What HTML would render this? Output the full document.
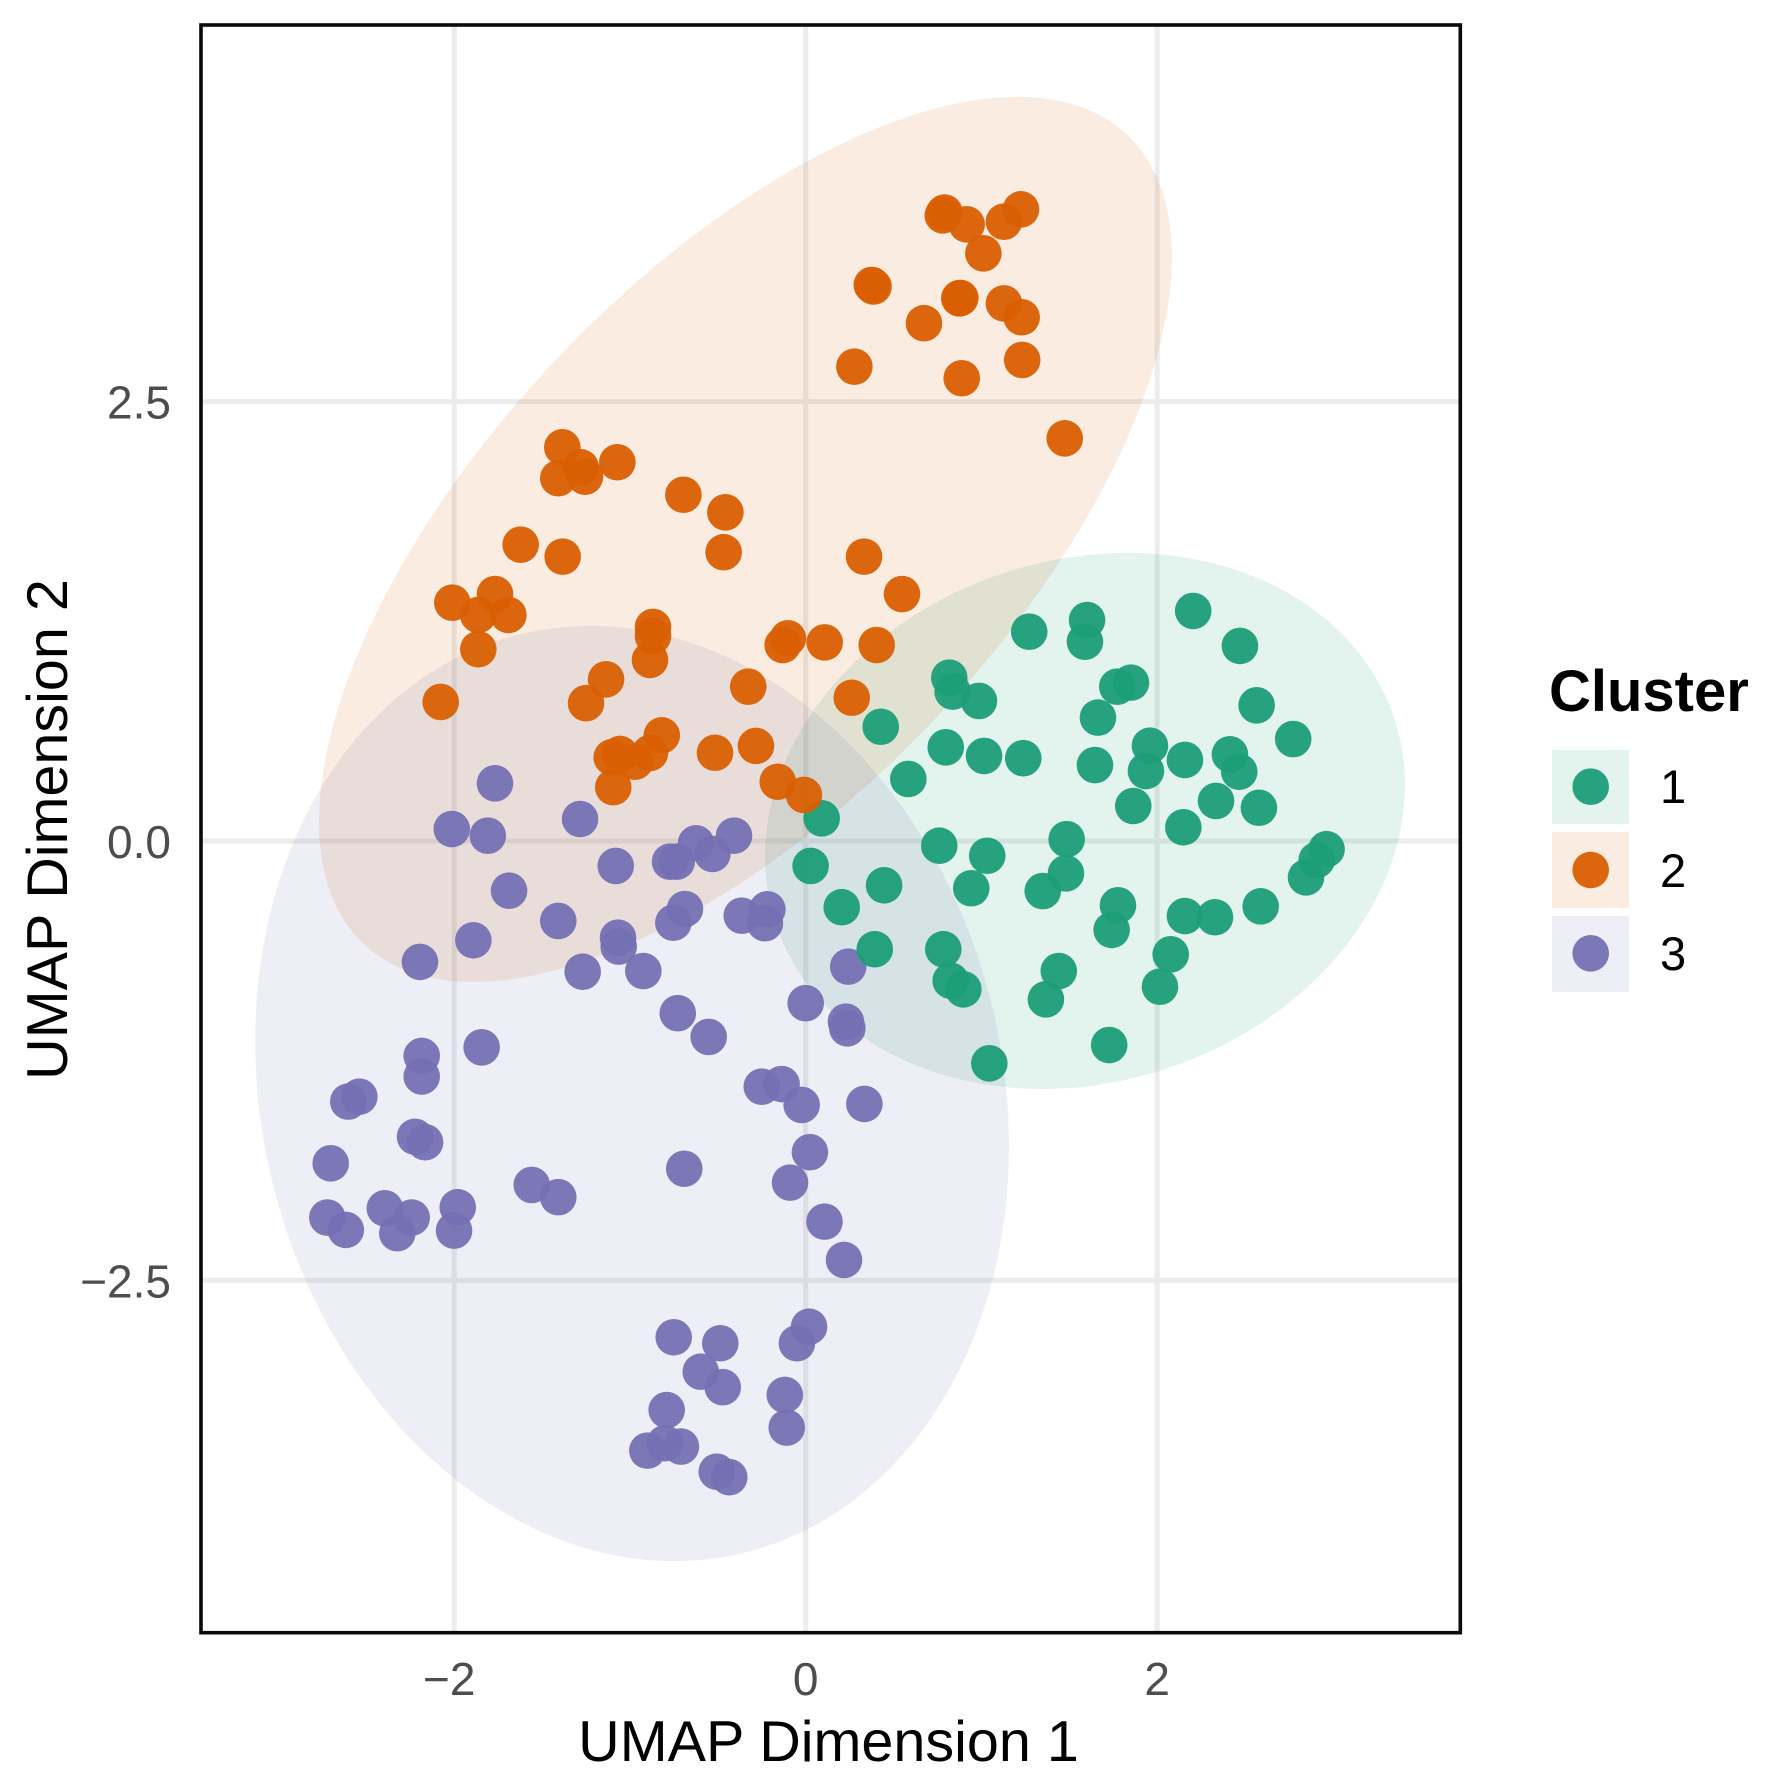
<!DOCTYPE html>
<html lang="en">
<head>
<meta charset="utf-8">
<title>UMAP clusters</title>
<style>
html,body{margin:0;padding:0;background:#fff;}
svg{display:block;font-family:"Liberation Sans",Arial,sans-serif;}
</style>
</head>
<body>
<svg id="chart" width="1767" height="1790" viewBox="0 0 1767 1790" xmlns="http://www.w3.org/2000/svg">
  <rect x="0" y="0" width="1767" height="1790" fill="#ffffff"/>
  <g id="grid"></g>
  <g id="ellipses"></g>
  <g id="points"></g>
  <rect id="frame" fill="none" stroke="#0a0a0a" stroke-width="3.6"/>
  <g id="ticks"></g>
  <text x="828.5" y="1761" font-size="57.5" text-anchor="middle" fill="#000">UMAP Dimension 1</text>
  <text transform="translate(67,829.5) rotate(-90)" font-size="57.5" text-anchor="middle" fill="#000">UMAP Dimension 2</text>
  <g>
    <text x="1549" y="711" font-size="58" font-weight="bold" fill="#000">Cluster</text>
    <g>
      <rect x="1552" y="750" width="77" height="74" fill="#1B9E77" fill-opacity="0.12"/>
      <circle cx="1590.7" cy="786.7" r="18.3" fill="#1B9E77" fill-opacity="0.95"/>
      <text x="1660" y="803" font-size="47" fill="#000">1</text>
    </g>
    <g>
      <rect x="1552" y="832" width="77" height="76" fill="#D95F02" fill-opacity="0.12"/>
      <circle cx="1590.7" cy="870" r="18.3" fill="#D95F02" fill-opacity="0.95"/>
      <text x="1660" y="887" font-size="47" fill="#000">2</text>
    </g>
    <g>
      <rect x="1552" y="916" width="77" height="76" fill="#7570B3" fill-opacity="0.12"/>
      <circle cx="1590.7" cy="953.3" r="18.3" fill="#7570B3" fill-opacity="0.95"/>
      <text x="1660" y="970" font-size="47" fill="#000">3</text>
    </g>
  </g>
</svg>
<script>
const xTicks = [-2, 0, 2];
const xTickLabels = ["\u22122", "0", "2"];
const yTicks = [-2.5, 0, 2.5];
const yTickLabels = ["\u22122.5", "0.0", "2.5"];
const xDomain = [-3.441, 3.725];
const yDomain = [-4.505, 4.643];

const cluster1X = [1.272,1.601,1.589,2.205,2.471,.817,.836,.986,1.773,1.851,1.663,2.566,2.774,.427,.797,1.015,1.238,.584,1.646,1.959,1.936,2.158,2.414,2.467,2.335,2.579,1.864,2.149,1.485,.760,1.033,1.481,1.349,.942,.446,.205,.091,.028,1.777,1.741,2.158,2.329,2.589,2.964,2.908,2.847,2.077,2.016,1.440,1.367,.393,.783,.825,.897,1.727,1.045];
const cluster1Y = [1.191,1.257,1.134,1.309,1.110,.929,.850,.797,.878,.901,.702,.772,.580,.650,.533,.484,.471,.353,.432,.542,.398,.461,.493,.394,.228,.189,.199,.078,.010,-.027,-.084,-.184,-.285,-.269,-.252,-.377,.129,-.142,-.366,-.506,-.427,-.434,-.372,-.047,-.108,-.207,-.645,-.829,-.740,-.901,-.616,-.616,-.795,-.844,-1.161,-1.265];

const cluster2X = [.780,.790,.916,1.128,1.225,1.011,.376,.386,.874,.880,.673,1.128,1.229,.277,.888,1.232,1.474,.332,.548,-1.385,-1.280,-1.408,-1.256,-1.072,-.696,-.457,-.467,-1.622,-1.383,-2.011,-1.768,-1.863,-1.692,-1.863,-.869,-.869,-.886,-1.136,-1.250,-2.077,-.327,-.819,-.886,-.971,-1.104,-1.057,-1.095,-.516,-.283,-.159,-.010,-.131,-.101,.108,.404,.262];
const cluster2Y = [3.560,3.576,3.509,3.524,3.594,3.344,3.164,3.155,3.088,3.090,2.946,3.059,2.980,2.699,2.633,2.737,2.291,1.618,1.405,2.240,2.126,2.064,2.073,2.155,1.970,1.870,1.643,1.686,1.618,1.356,1.405,1.286,1.286,1.091,1.218,1.166,1.030,.920,.784,.791,.878,.601,.501,.451,.476,.495,.306,.502,.541,.337,.262,1.115,1.153,1.130,1.115,.815];

const cluster3X = [-1.768,-2.014,-1.809,-1.284,-1.081,-.772,-.734,-.624,-.531,-.408,-1.688,-1.408,-.687,-.753,-.364,-.218,-.232,-1.891,-2.195,-1.068,-1.064,-1.269,-.924,-.728,-.552,0,-1.844,-2.185,-2.185,.242,.229,.237,-2.540,-2.603,-2.223,-2.166,-2.703,-2.722,-2.617,-2.395,-2.242,-2.324,-1.980,-2.001,-1.559,-1.408,-.691,-.250,-.137,-.023,.024,-.089,.107,.218,.334,-.751,-.486,-.597,-.472,.019,-.050,-.119,-.108,-.791,-.901,-.801,-.710,-.506,-.435];
const cluster3Y = [.328,.068,.030,.125,-.142,-.118,-.118,-.013,-.074,.030,-.283,-.455,-.387,-.465,-.425,-.389,-.468,-.565,-.688,-.550,-.601,-.744,-.740,-.980,-1.115,-.923,-1.174,-1.223,-1.340,-.715,-1.028,-1.066,-1.455,-1.483,-1.683,-1.714,-1.834,-2.143,-2.213,-2.090,-2.143,-2.232,-2.084,-2.217,-1.957,-2.027,-1.865,-1.398,-1.383,-1.502,-1.771,-1.944,-2.166,-2.384,-1.496,-2.824,-2.858,-3.020,-3.108,-2.764,-2.858,-3.152,-3.338,-3.238,-3.469,-3.427,-3.446,-3.589,-3.620];

const clusterIds = [1, 2, 3];
const ellipseCenterX = [1.589, -.343, -.988];
const ellipseCenterY = [.114, 1.716, -1.437];
const ellipseVarX = [3.316, 5.89, 4.60];
const ellipseVarY = [2.326, 6.34, 7.08];
const ellipseCov = [.37, 3.90, -.64];

const colors = {1: "#1B9E77", 2: "#D95F02", 3: "#7570B3"};
const panelLeft = 201, panelRight = 1460.3, panelTop = 25, panelBottom = 1632.7;
const NS = "http://www.w3.org/2000/svg";

function sx(v) { return panelLeft + (v - xDomain[0]) / (xDomain[1] - xDomain[0]) * (panelRight - panelLeft); }
function sy(v) { return panelBottom - (v - yDomain[0]) / (yDomain[1] - yDomain[0]) * (panelBottom - panelTop); }
function make(tag, attrs, parent) {
  const el = document.createElementNS(NS, tag);
  for (const k in attrs) el.setAttribute(k, attrs[k]);
  parent.appendChild(el);
  return el;
}

const frame = document.getElementById("frame");
frame.setAttribute("x", panelLeft);
frame.setAttribute("y", panelTop);
frame.setAttribute("width", panelRight - panelLeft);
frame.setAttribute("height", panelBottom - panelTop);

const grid = document.getElementById("grid");
const ticks = document.getElementById("ticks");

xTicks.forEach(function (t, i) {
  const line = make("line", {x1: sx(t), x2: sx(t), y1: panelTop, y2: panelBottom, stroke: "#ececec", "stroke-width": 5}, grid);
  
  
  const offset = xTickLabels[i].charAt(0) === "\u2212" ? -5 : 0;
  const label = make("text", {x: sx(t) + offset, y: 1695, "font-size": 46, "text-anchor": "middle", fill: "#4d4d4d"}, ticks);
  
  
  label.textContent = xTickLabels[i];
});

yTicks.forEach(function (t, i) {
  const line = make("line", {x1: panelLeft, x2: panelRight, y1: sy(t), y2: sy(t), stroke: "#ececec", "stroke-width": 5}, grid);
  
  
  const label = make("text", {x: 171, y: sy(t) + 17, "font-size": 46, "text-anchor": "end", fill: "#4d4d4d"}, ticks);
  
  
  label.textContent = yTickLabels[i];
});

const ellipses = document.getElementById("ellipses");
clusterIds.forEach(function (id, i) {
  const a = Math.sqrt(ellipseVarX[i]);
  const b = ellipseCov[i] / a;
  const c = Math.sqrt(ellipseVarY[i] - b * b);
  const pts = [];
  for (let k = 0; k < 180; k++) {
    const t = k / 180 * 2 * Math.PI;
    const dx = a * Math.cos(t);
    const dy = b * Math.cos(t) + c * Math.sin(t);
    pts.push(sx(ellipseCenterX[i] + dx).toFixed(1) + "," + sy(ellipseCenterY[i] + dy).toFixed(1));
  }
  const poly = make("polygon", {points: pts.join(" "), fill: colors[id], "fill-opacity": 0.12}, ellipses);
  
  
});

const pointsLayer = document.getElementById("points");
function drawCluster(id, xs, ys) {
  xs.forEach(function (x, i) {
    const dot = make("circle", {cx: sx(x), cy: sy(ys[i]), r: 18.3, fill: colors[id], "fill-opacity": 0.95}, pointsLayer);
    
    
  });
}
drawCluster(3, cluster3X, cluster3Y);
drawCluster(1, cluster1X, cluster1Y);
drawCluster(2, cluster2X, cluster2Y);
</script>
</body>
</html>
